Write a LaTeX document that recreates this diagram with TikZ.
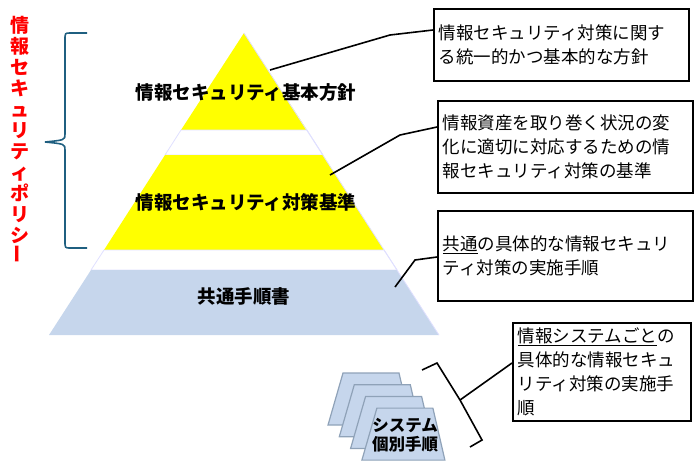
\documentclass[tikz,border=0pt]{standalone}
\usepackage{fontspec}
\setmainfont{Noto Sans CJK JP}
\usetikzlibrary{positioning,calc}
\definecolor{pyryellow}{HTML}{FFFF00}
\definecolor{pyrblue}{HTML}{C6D6EC}
\definecolor{cardedge}{HTML}{8FA2B8}
\definecolor{bracecol}{HTML}{1F5F80}
\begin{document}
\begin{tikzpicture}[
        x=1pt, y=-1pt,
        layer/.style={draw=blue!12, line width=0.8pt},
        note/.style={rectangle, draw, line width=1.6pt, inner sep=5pt, align=left, anchor=north west, font=\fontsize{17.5}{24}\selectfont, text width=#1},
        note/.default=245pt,
        tier/.style={font=\bfseries\fontsize{18.5}{22}\selectfont},
        card/.style={draw=cardedge, fill=pyrblue, line width=1.2pt},
        link/.style={line width=1.6pt}
    ]
        \useasboundingbox (0,0) rectangle (700,467);

        % Pyramid layers
        \fill[pyryellow] (244,33) -- (307,130) -- (181,130) -- cycle;
        \draw[layer, fill=white] (181,130) -- (307,130) -- (323,155) -- (165,155) -- cycle;
        \fill[pyryellow] (165,155) -- (323,155) -- (384,250) -- (104,250) -- cycle;
        \draw[layer, fill=white] (104,250) -- (384,250) -- (397,270) -- (91,270) -- cycle;
        \fill[pyrblue] (91,270) -- (397,270) -- (439,335) -- (49,335) -- cycle;
        \draw[layer] (244,33) -- (439,335);

        \node[tier] (policy) at (246,92) {情報セキュリティ基本方針};
        \node[tier] (standard) at (246,202) {情報セキュリティ対策基準};
        \node[tier] (common) at (244,296) {共通手順書};

        % System cards
        \foreach \i in {0,...,3}
            \draw[card] ($(343,373)+(11.3*\i,11.7*\i)$) -- ++(56,0) -- ++(12,52) -- ++(-83,0) -- cycle;
        \node[font=\bfseries\fontsize{16.5}{19}\selectfont, align=center] (system) at (405,435) {システム\\個別手順};

        % Left title and brace
        \node[text=red, font=\bfseries\fontsize{19}{21}\selectfont, align=center] (title) at (20,140)
            {情\\報\\セ\\キ\\ュ\\リ\\テ\\ィ\\ポ\\リ\\シ\\\rotatebox{90}{ー}};
        \draw[color=bracecol, line width=1.6pt] (87,33) -- (70,33) .. controls (65,33) .. (65,40) -- (65,134)
            .. controls (65,140) .. (45,142) .. controls (65,144) .. (65,150) -- (65,241)
            .. controls (65,248) .. (70,248) -- (87,248);

        % Notes
        \node[note, minimum height=72pt] (n1) at (433,8) {情報セキュリティ対策に関す\\る統一的かつ基本的な方針};
        \node[note, minimum height=92pt] (n2) at (437,100) {情報資産を取り巻く状況の変\\化に適切に対応するための情\\報セキュリティ対策の基準};
        \node[note, minimum height=90pt] (n3) at (437,210) {\underline{共通}の具体的な情報セキュリ\\ティ対策の実施手順};
        \node[note=168pt, minimum height=96pt] (n4) at (512,322) {\underline{情報システムごと}の\\具体的な情報セキュ\\リティ対策の実施手\\順};

        % Connectors
        \coordinate (p1) at (270,70);
        \coordinate (p2) at (330,175);
        \coordinate (p3) at (395,287);
        \coordinate (tip) at (460,400);
        \draw[link] (p1) -- (390,35) -- (n1.west |- 0,30);
        \draw[link] (p2) -- (400,135) -- (n2.west |- 0,127);
        \draw[link] (p3) -- (415,260) -- (n3.west |- 0,257);
        \draw[link] (422,370) -- (437,363) -- (tip) -- (482,440) -- (470,447);
        \draw[link] (tip) -- (n4.west |- 0,363);
\end{tikzpicture}
\end{document}
